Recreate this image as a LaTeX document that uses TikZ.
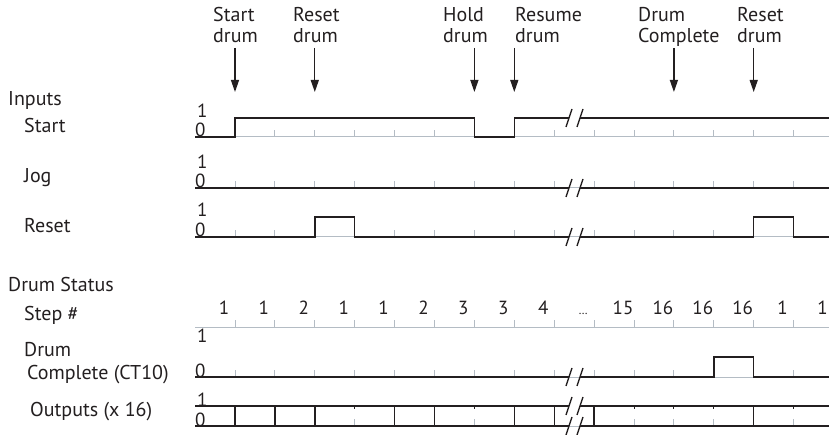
\documentclass[tikz,border=0pt]{standalone}
\usepackage{fontspec}
\setmainfont{PT Sans}
\usetikzlibrary{arrows.meta}
\definecolor{ink}{HTML}{231F20}
\definecolor{gridgray}{HTML}{B4BCC4}
% x position of the k-th step boundary
\newcommand{\tkx}[1]{235+39.9*#1}
% break mark "//" across a line at height #1
\newcommand{\brkmark}[1]{%
  \draw[brk] (566,#1+9) -- (572,#1-9);
  \draw[brk] (577,#1+9) -- (583,#1-9);}
\begin{document}
\begin{tikzpicture}[x=1pt,y=-1pt,
  sig/.style={line width=1.4pt, draw=ink, line join=miter},
  brk/.style={line width=1.3pt, draw=ink},
  base/.style={line width=1pt, draw=gridgray},
  lbl/.style={font=\fontsize{20}{21}\selectfont, text=ink, anchor=base west, inner sep=0pt},
  lvl/.style={font=\fontsize{19}{19}\selectfont, text=ink, anchor=base west, inner sep=0pt},
  num/.style={font=\fontsize{19}{19}\selectfont, text=ink, anchor=base, inner sep=0pt},
  evt/.style={font=\fontsize{20}{21}\selectfont, text=ink, anchor=base west, inner sep=0pt, align=left},
  arr/.style={line width=1.3pt, draw=ink, -{Triangle[width=8pt,length=12pt]}}]
\useasboundingbox (0,0) rectangle (829,435);

% ---------- events along the top ----------
\node[evt] (e1) at (213,43) {Start\\drum};
\node[evt] (e2) at (293,43) {Reset\\drum};
\node[evt] (e3) at (443,43) {Hold\\drum};
\node[evt] (e4) at (515,43) {Resume\\drum};
\node[evt] (e5) at (638,43) {Drum\\Complete};
\node[evt] (e6) at (737,43) {Reset\\drum};
\foreach \n/\k in {1/0,2/2,3/6,4/7,5/11,6/13}{
  \coordinate (s\n) at (\tkx{\k},48);
  \coordinate (t\n) at (\tkx{\k},92);
  \draw[arr] (s\n) -- (t\n);
}

% ---------- row labels ----------
\node[lbl] (inputs) at (8,106) {Inputs};
\node[lbl] (lstart) at (24,133) {Start};
\node[lbl] (ljog) at (24,183) {Jog};
\node[lbl] (lreset) at (24,233) {Reset};
\node[lbl] (status) at (8,291) {Drum Status};
\node[lbl] (lstep) at (24,320) {Step \#};
\node[lbl] (ldrum) at (24,356) {Drum};
\node[lbl] (lcomp) at (27,379) {Complete (CT10)};
\node[lbl] (lout) at (30,416) {Outputs (x 16)};

% ---------- level marks ----------
\foreach \hi/\lo/\nm in {118/137/a,169/188/b,217/237/c,342/377/d,406/426/e}{
  \node[lvl] (one\nm) at (197,\hi) {1};
  \node[lvl] (zero\nm) at (195,\lo) {0};
}

% ---------- grey baselines and step ticks ----------
\foreach \y in {137,188,237,327,377,426}{
  \draw[base] (195,\y) -- (829,\y);
  \foreach \k in {0,...,14}
    \draw[base] (\tkx{\k},\y) -- ++(0,-7);
}

% ---------- Start ----------
\draw[sig] (195,137) -- (\tkx{0},137) -- (\tkx{0},118) -- (\tkx{6},118)
  -- (\tkx{6},137) -- (\tkx{7},137) -- (\tkx{7},118) -- (569,118);
\draw[sig] (580,118) -- (829,118);
\brkmark{118}

% ---------- Jog ----------
\draw[sig] (195,188) -- (569,188);
\draw[sig] (580,188) -- (829,188);
\brkmark{188}

% ---------- Reset ----------
\draw[sig] (195,237) -- (\tkx{2},237) -- (\tkx{2},217) -- (\tkx{3},217)
  -- (\tkx{3},237) -- (569,237);
\draw[sig] (580,237) -- (\tkx{13},237) -- (\tkx{13},217) -- (\tkx{14},217)
  -- (\tkx{14},237) -- (829,237);
\brkmark{237}

% ---------- Step numbers ----------
\foreach \lab [count=\i from 0] in {1,1,2,1,1,2,3,3,4,{\fontsize{12}{12}\selectfont\ldots},15,16,16,16,1,1}
  \node[num] (n\i) at (\tkx{\i}-11,315) {\lab};

% ---------- Drum Complete ----------
\draw[sig] (195,377) -- (569,377);
\draw[sig] (580,377) -- (\tkx{12},377) -- (\tkx{12},357) -- (\tkx{13},357)
  -- (\tkx{13},377) -- (829,377);
\brkmark{377}

% ---------- Outputs (bus) ----------
\draw[sig] (195,406) -- (569,406) (580,406) -- (829,406);
\draw[sig] (195,426) -- (569,426) (580,426) -- (829,426);
\foreach \k in {0,1,2,4,5,7,8,9,13}
  \draw[sig] (\tkx{\k},406) -- (\tkx{\k},426);
\foreach \k in {3,6,10,11,12,14}
  \draw[sig, line width=1pt] (\tkx{\k},406) -- ++(0,3);
\brkmark{406}
\brkmark{426}
\end{tikzpicture}
\end{document}
